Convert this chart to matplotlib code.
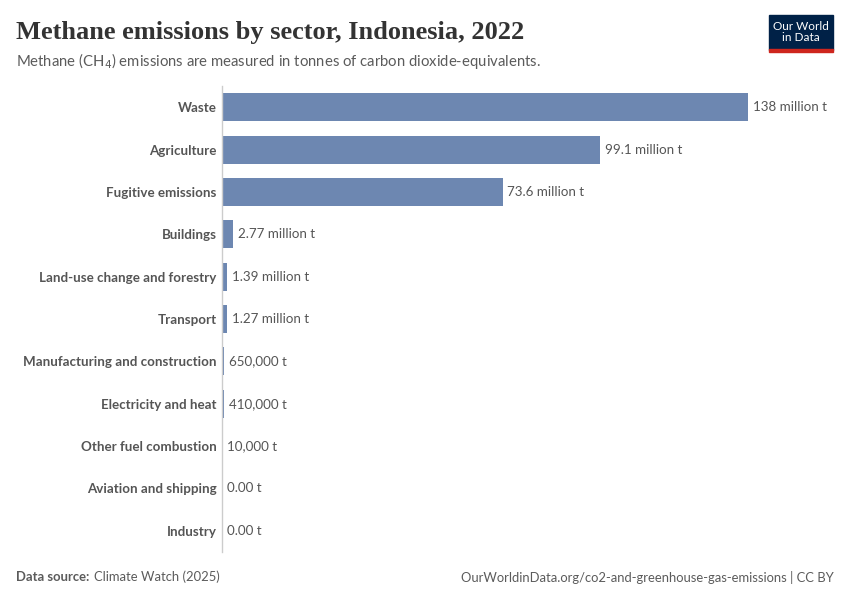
import matplotlib.pyplot as plt
from matplotlib.patches import Rectangle

# Data (million tonnes CO2-eq)
sectors = ["Waste", "Agriculture", "Fugitive emissions", "Buildings",
           "Land-use change and forestry", "Transport",
           "Manufacturing and construction", "Electricity and heat",
           "Other fuel combustion", "Aviation and shipping", "Industry"]
values = [138, 99.1, 73.6, 2.77, 1.39, 1.27, 0.65, 0.41, 0.01, 0.0, 0.0]
value_labels = ["138 million t", "99.1 million t", "73.6 million t",
                "2.77 million t", "1.39 million t", "1.27 million t",
                "650,000 t", "410,000 t", "10,000 t", "0.00 t", "0.00 t"]

plt.rcParams['font.family'] = ['Lato', 'DejaVu Sans']

fig = plt.figure(figsize=(8.5, 6), dpi=100)
ax = fig.add_axes([222 / 850, 48 / 600, 526 / 850, 466 / 600])

y = list(range(len(sectors)))
ax.barh(y, values, height=0.66, color="#6D87B1")
ax.set_ylim(len(sectors) - 0.5, -0.5)
ax.set_xlim(0, 138)

for yi, v, lab in zip(y, values, value_labels):
    ax.text(v + 1.3, yi, lab, va="center", ha="left", fontsize=9.6,
            color="#555555", clip_on=False)

ax.set_yticks(y)
ax.set_yticklabels(sectors, fontsize=9.6, color="#555555", fontweight="bold")
ax.tick_params(axis="y", length=0, pad=4)
ax.set_xticks([])
for s in ["top", "right", "bottom"]:
    ax.spines[s].set_visible(False)
ax.spines["left"].set_color("#cccccc")
ax.spines["left"].set_linewidth(1)

# Title and subtitle
fig.text(16 / 850, 1 - 32 / 600, "Methane emissions by sector, Indonesia, 2022",
         family=["Liberation Serif", "DejaVu Serif"], fontsize=19,
         fontweight="bold", color="#333333", va="center", ha="left")
fig.text(16 / 850, 1 - 61 / 600,
         "Methane (CH$_4$) emissions are measured in tonnes of carbon dioxide-equivalents.",
         fontsize=10.7, color="#5b5b5b", va="center", ha="left")

# Footer
fig.text(16 / 850, 1 - 577 / 600, "Data source:", fontsize=9.4, color="#5b5b5b",
         fontweight="bold", va="center", ha="left")
fig.text(94 / 850, 1 - 577 / 600, "Climate Watch (2025)", fontsize=9.4,
         color="#5b5b5b", va="center", ha="left")
fig.text(834 / 850, 1 - 577 / 600,
         "OurWorldinData.org/co2-and-greenhouse-gas-emissions | CC BY",
         fontsize=9.4, color="#5b5b5b", va="center", ha="right")

# Logo
fig.patches.append(Rectangle((769 / 850, 1 - 50 / 600), 64 / 850, 35 / 600,
                             transform=fig.transFigure, color="#002147"))
fig.patches.append(Rectangle((769 / 850, 1 - 52 / 600), 64 / 850, 3 / 600,
                             transform=fig.transFigure, color="#CE261E"))
fig.text(801 / 850, 1 - 32 / 600, "Our World\nin Data", fontsize=8.5,
         color="white", ha="center", va="center", linespacing=1.0)

fig.savefig("out.png", dpi=100)
